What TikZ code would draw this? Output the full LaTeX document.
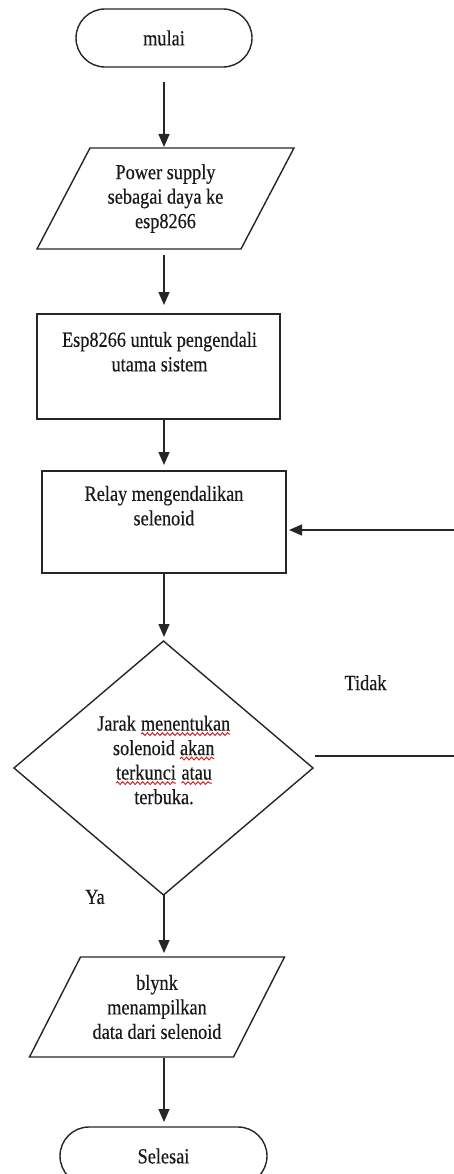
\documentclass[tikz,border=0pt]{standalone}
\usepackage{fontspec}
\setmainfont{Liberation Serif}[FakeStretch=0.85,FakeBold=0.4]
\usetikzlibrary{arrows.meta,shapes.geometric,calc,decorations.pathmorphing}
\definecolor{squigred}{RGB}{210,40,40}
\newcommand\redwave[1]{\tikz[baseline=(w.base)]{\node[inner sep=0pt,outer sep=0pt,draw=none] (w) {#1};
  \draw[squigred, line width=1pt, decorate, decoration={snake,amplitude=1.4pt,segment length=5pt}]
  ([yshift=-3.5pt]w.base west) -- ([yshift=-3.5pt]w.base east);}}
\tikzset{
  line/.style={line width=1.4pt, draw=black!85},
  arr/.style={line, -{Triangle[length=13pt,width=11pt]}},
  txt/.style={font=\fontsize{21.5}{24.5}\selectfont, text=black!90, align=center, inner sep=0pt, outer sep=0pt},
  term/.style={txt, line, draw, rounded corners=29pt, minimum height=58pt},
  boxshape/.style={line, draw, inner sep=0pt, outer sep=0pt},
  para/.style={txt, minimum width=204pt},
}
\begin{document}
\begin{tikzpicture}[x=1pt,y=-1pt]
\useasboundingbox (0,0) rectangle (454,1174);
% start
\node[term, minimum width=176pt] (mulai) at (164,38) {mulai};
% input 1
\node[para, minimum height=101pt] (p1) at (165.5,198.5) {Power supply\\sebagai daya ke\\esp8266};
\draw[line] ([xshift=26.5pt]p1.north west) -- ([xshift=26.5pt]p1.north east)
  -- ([xshift=-26.5pt]p1.south east) -- ([xshift=-26.5pt]p1.south west) -- cycle;
% process 1
\node[boxshape, minimum width=243pt, minimum height=105pt] (box1) at (158.5,366.5) {};
\node[txt] (tbox1) at (159.5,351.7) {Esp8266 untuk pengendali\\utama sistem};
% process 2
\node[boxshape, minimum width=244pt, minimum height=102pt] (box2) at (164,522) {};
\node[txt] (tbox2) at (164,505.7) {Relay mengendalikan\\selenoid};
% decision
\node[boxshape, diamond, minimum width=299pt, minimum height=254pt] (dia) at (163.5,768) {};
\node[txt] (tdia) at (164,760) {Jarak \redwave{menentukan}\\solenoid \redwave{akan}\\\redwave{terkunci} \redwave{atau}\\terbuka.};
\node[txt] (tidak) at (365.5,682.7) {Tidak};
\node[txt] (ya) at (95,897) {Ya};
% input 2
\node[para, minimum height=100pt] (p2) at (157,1007) {blynk\\menampilkan\\data dari selenoid};
\draw[line] ([xshift=25.5pt]p2.north west) -- ([xshift=25.5pt]p2.north east)
  -- ([xshift=-25.5pt]p2.south east) -- ([xshift=-25.5pt]p2.south west) -- cycle;
% end
\node[term, minimum width=207pt] (selesai) at (163.5,1156) {Selesai};
% connectors
\draw[arr, shorten <=15pt, shorten >=1pt] (mulai.south) -- (mulai.south |- p1.north);
\draw[arr, shorten <=6pt, shorten >=9pt] (p1.south -| mulai.south) -- (box1.north -| mulai.south);
\draw[arr, shorten >=6pt] (box1.south -| mulai.south) -- (box2.north -| mulai.south);
\draw[arr, shorten >=4pt] (box2.south) -- (dia.north -| box2.south);
\draw[arr, shorten >=4pt] (dia.south -| mulai.south) -- (p2.north -| mulai.south);
\draw[arr, shorten <=1pt, shorten >=5pt] (p2.south -| mulai.south) -- (selesai.north -| mulai.south);
% loop back (Tidak)
\coordinate (loopA) at (462,756);
\coordinate (loopB) at (462,530);
\draw[arr, shorten >=3pt] ($(dia.east)+(2,-12)$) -- (loopA) -- (loopB) -- (box2.east |- loopB);
\end{tikzpicture}
\end{document}
